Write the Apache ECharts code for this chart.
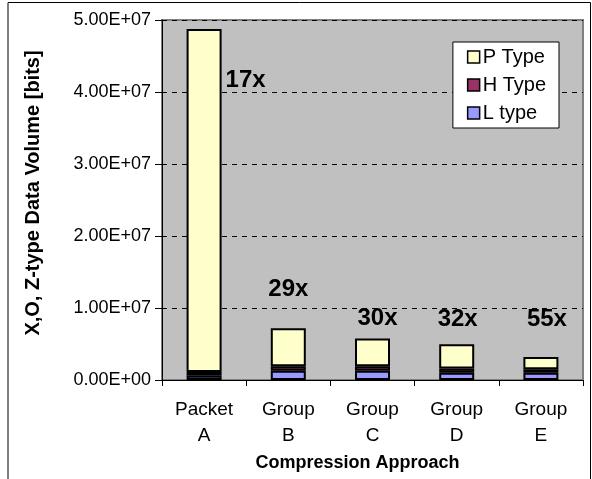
<!DOCTYPE html>
<html>
<head>
<meta charset="utf-8">
<script src="https://cdn.jsdelivr.net/npm/echarts@6/dist/echarts.min.js"></script>
<style>html,body{margin:0;padding:0;background:#fff;}#c{width:592px;height:479px;}</style>
</head>
<body>
<div id="c"></div>
<script>
var categories = ['Packet\nA', 'Group\nB', 'Group\nC', 'Group\nD', 'Group\nE'];
var lType = [600000, 1300000, 1300000, 1000000, 1000000];
var hType = [500000, 600000, 600000, 600000, 500000];
var pType = [47650000, 5300000, 3850000, 3350000, 1700000];
var ratioLabels = ['17x', '29x', '30x', '32x', '55x'];
var yTicks = [0, 10000000, 20000000, 30000000, 40000000, 50000000];

function sci(v) {
  if (v === 0) return '0.00E+00';
  var e = Math.floor(Math.log10(Math.abs(v)));
  var m = v / Math.pow(10, e);
  var es = (e < 0 ? '-' : '+') + (Math.abs(e) < 10 ? '0' : '') + Math.abs(e);
  return m.toFixed(2) + 'E' + es;
}

var labelCfg = [
  {position: 'right', distance: 4, offset: [0, -120]},
  {position: 'top', distance: 27, offset: [0, 0]},
  {position: 'top', distance: 8, offset: [5, 0]},
  {position: 'top', distance: 13, offset: [1, 0]},
  {position: 'top', distance: 26, offset: [6, 0]}
];

var pData = pType.map(function (v, i) {
  return {
    value: v,
    label: Object.assign({show: true, formatter: ratioLabels[i]}, labelCfg[i])
  };
});

var font = 'Liberation Sans, Arial, sans-serif';
var chart = echarts.init(document.getElementById('c'), null, {renderer: 'canvas'});
var barStyle = function (c) { return {color: c, borderColor: '#000', borderWidth: 2}; };

chart.setOption({
  animation: false,
  backgroundColor: '#fff',
  textStyle: {fontFamily: font},
  grid: {left: 162, right: 9, top: 20, bottom: 99, show: true, backgroundColor: '#c0c0c0', borderColor: '#808080', borderWidth: 2},
  legend: {
    data: ['P Type', 'H Type', 'L type'],
    orient: 'vertical',
    right: 33, top: 42,
    backgroundColor: '#fff', borderColor: '#000', borderWidth: 1,
    padding: [5, 13, 5, 14],
    itemWidth: 12, itemHeight: 12, itemGap: 8,
    icon: 'rect',
    itemStyle: {borderColor: '#000', borderWidth: 1.5},
    textStyle: {fontSize: 20, color: '#000', fontFamily: font, padding: [0, 0, 0, -2]}
  },
  xAxis: {
    type: 'category',
    data: categories,
    name: 'Compression Approach',
    nameLocation: 'middle',
    nameGap: 67,
    nameTextStyle: {fontSize: 18, fontWeight: 'bold', color: '#000', fontFamily: font, padding: [0, 30, 0, 0]},
    axisLine: {lineStyle: {color: '#000', width: 1}},
    axisTick: {show: true, length: 6, lineStyle: {color: '#000'}},
    axisLabel: {fontSize: 19, color: '#000', lineHeight: 26, margin: 17, fontFamily: font},
    splitLine: {show: false}
  },
  yAxis: {
    type: 'value',
    min: 0, max: 50000000, interval: 10000000,
    name: 'X,O, Z-type Data Volume [bits]',
    nameLocation: 'middle',
    nameGap: 119,
    nameTextStyle: {fontSize: 20, fontWeight: 'bold', color: '#000', fontFamily: font, padding: [0, 0, 0, 14]},
    axisLine: {show: true, lineStyle: {color: '#000', width: 1}},
    axisTick: {show: true, length: 7, lineStyle: {color: '#000'}},
    axisLabel: {fontSize: 18, color: '#000', margin: 11, fontFamily: font, formatter: function (v) { return sci(v); }},
    splitLine: {show: true, lineStyle: {color: '#000', type: [5, 5], width: 1}}
  },
  series: [
    {name: 'L type', type: 'bar', stack: 'v', barWidth: 35, data: lType, itemStyle: barStyle('#9999ff')},
    {name: 'H Type', type: 'bar', stack: 'v', barWidth: 35, data: hType, itemStyle: barStyle('#993366')},
    {name: 'P Type', type: 'bar', stack: 'v', barWidth: 35, data: pData, itemStyle: barStyle('#ffffcc'),
     label: {show: true, fontSize: 24, fontWeight: 'bold', color: '#000', fontFamily: font}}
  ],
  graphic: [{
    type: 'polyline',
    shape: {points: [[8, 479], [8, 2.5], [590.5, 2.5], [590.5, 479]]},
    style: {stroke: '#000', lineWidth: 1, fill: null},
    silent: true
  }]
});
</script>
</body>
</html>
